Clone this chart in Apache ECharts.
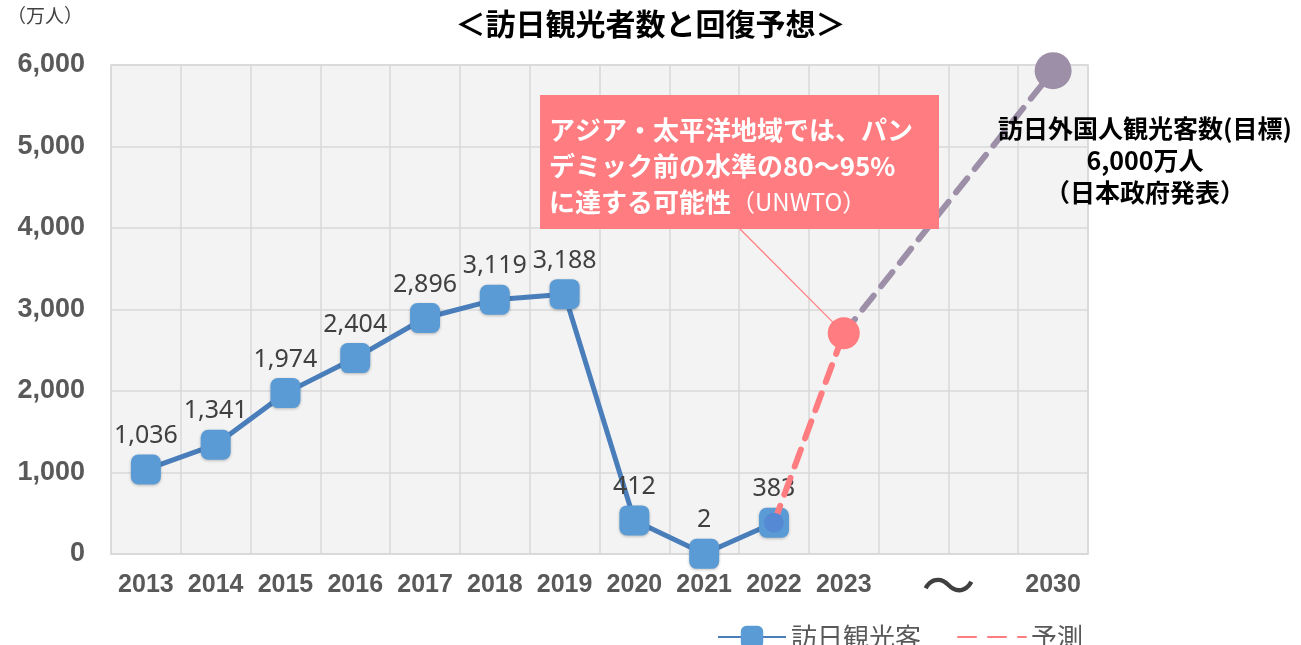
<!DOCTYPE html>
<html>
<head>
<meta charset="utf-8">
<script src="https://cdn.jsdelivr.net/npm/echarts@6/dist/echarts.min.js"></script>
<style>
  html, body { margin: 0; padding: 0; background: #fff; }
  #chart { width: 1301px; height: 645px; }
</style>
</head>
<body>
<div id="chart"></div>
<script>
// categories (2024-2029 are left as empty bands, the gap gets a tilde)
const years = ["2013", "2014", "2015", "2016", "2017", "2018", "2019", "2020", "2021", "2022", "2023", "gap1", "gap2", "2030"];
const xLabels = ["2013", "2014", "2015", "2016", "2017", "2018", "2019", "2020", "2021", "2022", "2023", "〜", "", "2030"];
const yTicks = [0, 1000, 2000, 3000, 4000, 5000, 6000];

// 訪日観光客 (万人)
const visitorYears = ["2013", "2014", "2015", "2016", "2017", "2018", "2019", "2020", "2021", "2022"];
const visitorValues = [1036, 1341, 1974, 2404, 2896, 3119, 3188, 412, 2, 383];

// 予測
const forecastYears = ["2022", "2023"];
const forecastValues = [383, 2710];

// 目標
const targetYears = ["2023", "2030"];
const targetValues = [2710, 5930];

const JP = '"Noto Sans CJK JP", "Noto Sans", sans-serif';
const LAT = '"Liberation Sans", Arial, sans-serif';

const chart = echarts.init(document.getElementById("chart"));

chart.setOption({
  animation: false,
  title: {
    text: "＜訪日観光者数と回復予想＞",
    left: "center",
    top: 4,
    textStyle: { fontFamily: JP, fontSize: 30, fontWeight: "bold", color: "#000" },
  },
  grid: {
    left: 111,
    right: 213,
    top: 65,
    bottom: 91,
    show: true,
    backgroundColor: "#f3f3f3",
    borderColor: "#d9d9d9",
    borderWidth: 1.5,
  },
  legend: {
    data: ["訪日観光客", { name: "予測", itemStyle: { opacity: 0 } }],
    left: 712,
    top: 619,
    itemWidth: 68,
    itemHeight: 28,
    itemGap: 36,
    textStyle: { fontFamily: JP, fontSize: 26, color: "#595959" },
  },
  xAxis: {
    type: "category",
    data: years,
    boundaryGap: true,
    axisLine: { lineStyle: { color: "#d9d9d9", width: 1.5 } },
    axisTick: { show: false },
    splitLine: { show: true, interval: 0, lineStyle: { color: "#d9d9d9", width: 1.5 } },
    axisLabel: {
      interval: 0,
      margin: 19,
      color: "#595959",
      fontFamily: LAT,
      fontSize: 25,
      fontWeight: "bold",
      formatter: (v, i) => (xLabels[i] === "〜" ? "{t|〜}" : xLabels[i]),
      rich: {
        t: {
          fontFamily: JP,
          fontSize: 54,
          fontWeight: "normal",
          color: "#404040",
          lineHeight: 25,
          padding: [0, 0, 0, 70],
        },
      },
    },
  },
  yAxis: {
    type: "value",
    min: yTicks[0],
    max: yTicks[yTicks.length - 1],
    interval: yTicks[1] - yTicks[0],
    axisLine: { show: false },
    axisTick: { show: false },
    splitLine: { lineStyle: { color: "#d9d9d9", width: 1.5 } },
    axisLabel: {
      margin: 26,
      color: "#595959",
      fontFamily: LAT,
      fontSize: 27,
      fontWeight: "bold",
      formatter: (v) => v.toLocaleString("en-US"),
    },
  },
  series: [
    {
      name: "目標",
      type: "line",
      data: targetYears.map((y, i) => [y, targetValues[i]]),
      symbol: "circle",
      symbolSize: (v, p) => (p.dataIndex === 1 ? 37 : 0),
      itemStyle: { color: "#9d8fa8" },
      lineStyle: { color: "#9d8fa8", width: 6, type: [18, 12], cap: "round" },
      z: 2,
    },
    {
      name: "訪日観光客",
      type: "line",
      data: visitorYears.map((y, i) => [y, visitorValues[i]]),
      symbol: "roundRect",
      symbolSize: 30,
      itemStyle: {
        color: "#5b9bd5",
        shadowColor: "rgba(0,0,0,0.25)",
        shadowBlur: 3,
        shadowOffsetY: 1,
      },
      lineStyle: { color: "#4a7ebb", width: 5 },
      label: {
        show: true,
        position: "top",
        distance: 6,
        color: "#404040",
        fontFamily: '"Noto Sans", sans-serif',
        fontSize: 25,
        formatter: (p) => p.value[1].toLocaleString("en-US"),
      },
      z: 3,
    },
    {
      name: "予測",
      type: "line",
      symbol: "none",
      data: forecastYears.map((y, i) => ({
        value: [y, forecastValues[i]],
        symbol: "circle",
        symbolSize: i === 1 ? 32 : 20,
        itemStyle: { color: i === 1 ? "#ff7c80" : "#5689d4" },
      })),
      itemStyle: { color: "#ff7c80" },
      lineStyle: { color: "#ff7c80", width: 6, type: [18, 12], cap: "round" },
      z: 4,
    },
  ],
});

// annotation box + leader line to the 2023 forecast point
const pt = chart.convertToPixel({ gridIndex: 0 }, [years.indexOf("2023"), forecastValues[1]]);

chart.setOption({
  graphic: [
    {
      type: "text",
      left: 7,
      top: 6,
      style: { text: "（万人）", fontFamily: JP, fontSize: 19, fill: "#404040" },
    },
    {
      type: "line",
      z: 5,
      shape: { x1: 740, y1: 229, x2: pt[0], y2: pt[1] },
      style: { stroke: "#ff7c80", lineWidth: 1.2 },
    },
    {
      type: "rect",
      z: 6,
      shape: { x: 540, y: 95, width: 399, height: 134 },
      style: { fill: "#ff7c80" },
    },
    {
      type: "text",
      z: 7,
      x: 549,
      y: 112,
      style: {
        text: "{b|アジア・太平洋地域では、パン}\n{b|デミック前の水準の80〜95%}\n{b|に達する可能性}{n|（UNWTO）}",
        rich: {
          b: { fontFamily: JP, fontSize: 26, fontWeight: "bold", fill: "#fff", lineHeight: 36 },
          n: { fontFamily: JP, fontSize: 24, fontWeight: "normal", fill: "#fff", lineHeight: 36 },
        },
      },
    },
    {
      type: "text",
      z: 7,
      x: 1145,
      y: 112,
      style: {
        text: "訪日外国人観光客数(目標)\n6,000万人\n（日本政府発表）",
        fontFamily: JP,
        fontSize: 25,
        fontWeight: "bold",
        fill: "#000",
        lineHeight: 32,
        align: "center",
      },
    },
  ],
});
</script>
</body>
</html>
